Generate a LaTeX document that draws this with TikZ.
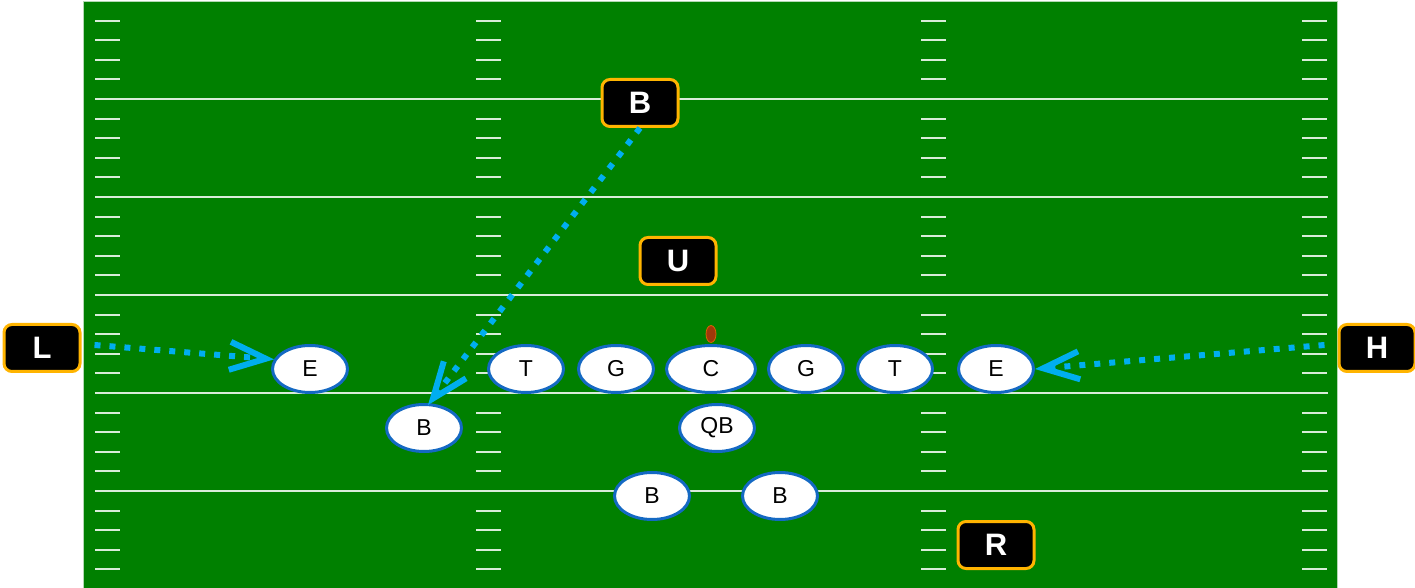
\documentclass[tikz,border=0pt]{standalone}
\usepackage{fontspec}
\setmainfont{Liberation Sans}
\usetikzlibrary{arrows.meta,shapes.geometric}
\definecolor{turf}{RGB}{0,128,0}
\definecolor{jersey}{RGB}{20,105,195}
\definecolor{rush}{RGB}{0,174,239}
\definecolor{gold}{RGB}{255,180,0}
\definecolor{pigskin}{RGB}{160,55,10}
\tikzset{
  player/.style={ellipse,draw=jersey,line width=1.5pt,fill=white,
    minimum width=37.5pt,minimum height=23.5pt,inner sep=0pt,font=\fontsize{11.5}{13}\selectfont},
  tag/.style={rectangle,rounded corners=4pt,draw=gold,line width=1.5pt,fill=black,
    minimum width=38pt,minimum height=23.5pt,inner sep=0pt,text=white,
    font=\fontsize{15.5}{18}\selectfont\bfseries},
  blitz/.style={draw=rush,line width=3pt,line cap=butt,dash pattern=on 3pt off 4.5pt,
    -{Straight Barb[length=18pt,width=14pt,line width=3pt]}},
  hash/.style={draw=white!85!turf,line width=1pt},
}
\begin{document}
\begin{tikzpicture}[x=0.5pt,y=-0.5pt]
  \useasboundingbox (0,0) rectangle (1415,588);
  % field
  \fill[turf] (83,2) rectangle (1337,588);
  \draw[white!70!turf,line width=0.5pt] (83,588) -- (83,2) -- (1337,2) -- (1337,588);
  % yard lines
  \foreach \yl in {99,197,295,393,491}
    \draw[hash] (95,\yl) -- (1328,\yl);
  % hash marks
  \foreach \hx in {95,476,921,1302}
    \foreach \k in {0,...,28}{
      \pgfmathtruncatemacro{\r}{mod(\k,5)}
      \ifnum\r<4
        \draw[hash] (\hx,20.6+19.6*\k) -- ++(25,0);
      \fi
    }
  % ball
  \node[ellipse,fill=pigskin,draw=orange!60!pigskin,line width=0.4pt,
    minimum width=5pt,minimum height=8.5pt,inner sep=0pt] (ball) at (711,334) {};
  % offence
  \node[player] (le) at (310,369) {E};
  \node[player] (lt) at (526,369) {T};
  \node[player] (lg) at (616,369) {G};
  \node[player,minimum width=44.5pt] (c) at (711,369) {C};
  \node[player] (rg) at (806,369) {G};
  \node[player] (rt) at (895,369) {T};
  \node[player] (re) at (996,369) {E};
  \node[player] (qb) at (717,428) {QB};
  \node[player] (wb) at (424,428) {B};
  \node[player] (lhb) at (652,496) {B};
  \node[player] (rhb) at (780,496) {B};
  % defence
  \node[tag] (safety) at (640,103) {B};
  \node[tag] (ub) at (678,261) {U};
  \node[tag] (lbox) at (42,348) {L};
  \node[tag] (hbox) at (1377,348) {H};
  \node[tag] (rbox) at (996,545) {R};
  % rushes
  \draw[blitz] ([shift={(13,-3)}]lbox.east) -- (le.165);
  \draw[blitz] ([shift={(-13,-3)}]hbox.west) -- (re.east);
  \draw[blitz] (safety.south) -- ([xshift=2pt,yshift=-1pt]wb.north);
\end{tikzpicture}
\end{document}
